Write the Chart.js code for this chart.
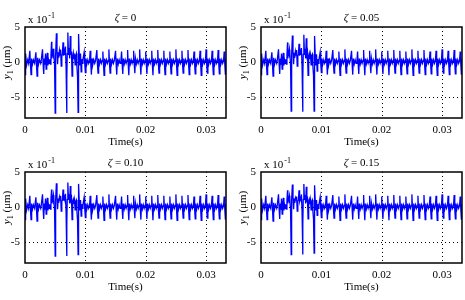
<!DOCTYPE html>
<html>
<head>
<meta charset="utf-8">
<script src="https://cdn.jsdelivr.net/npm/chart.js@4/dist/chart.umd.min.js"></script>
<style>
  html, body { margin: 0; padding: 0; background: #fff; overflow: hidden; }
  body { width: 465px; height: 300px; position: relative; }
  canvas { position: absolute; }
</style>
</head>
<body>
<canvas id="c0" width="230" height="150" style="left:0px;top:0px"></canvas>
<canvas id="c1" width="229" height="150" style="left:236px;top:0px"></canvas>
<canvas id="c2" width="230" height="150" style="left:0px;top:145px"></canvas>
<canvas id="c3" width="229" height="150" style="left:236px;top:145px"></canvas>
<script>
// axis ticks
const xTicks = [0, 0.01, 0.02, 0.03];
const yTicks = [-5, 0, 5];
const zetaLabels = ["0", "0.05", "0.10", "0.15"];

// y1 in units of 1e-1 um, [time(s), value]
// start-up part, same in every panel
const earlyPart = [
  [0,-1.8],[.0001,1.2],[.0002,.2],[.0003,-.3],[.00045,.3],[.0006,-.2],
  [.0008,1.6],[.0009,-.3],[.001,-1.8],[.0011,.5],[.00125,-.3],[.0014,.3],[.0016,-.2],
  [.0018,1.4],[.0019,-.3],[.002,-2.0],[.0021,.6],[.00225,-.3],[.0024,.3],[.0026,-.2],[.0027,.3],
  [.0029,1.8],[.003,-.2],[.0031,-1.7],[.0032,.5],[.0033,-.4],[.0034,1.2],[.0035,-1.0],[.0036,.4],
  [.0037,1.3],[.0038,-.5],[.0039,.3],[.004,-.2]
];

// transient bursts, one per damping ratio
const eventZ0 = [
  [.0041,.4],[.0042,-.3],[.0043,1.0],[.0044,2.9],[.00445,.5],[.0045,1.6],[.0046,1.2],[.0047,1.9],[.00475,.8],
  [.0048,1.4],[.0049,-.5],[.005,-7.3],[.00505,-3.0],[.0051,1.0],[.0052,4.1],[.0053,1.5],[.0054,-.3],[.0055,1.4],
  [.0056,.6],[.0057,1.6],[.0058,1.0],[.0059,1.8],[.006,-.6],[.0061,.8],[.0062,1.2],[.0063,2.8],[.0064,.9],
  [.0065,1.6],[.0066,1.0],[.0067,2.2],[.0068,-.5],[.0069,-7.3],[.00695,-2.5],[.007,1.2],[.0071,4.2],[.0072,1.0],
  [.0073,2.0],[.0074,.5],[.0075,3.7],[.0076,1.0],[.0077,1.5],[.0078,-2.0],[.0079,.8],[.008,1.3],[.0081,.4],
  [.0082,1.1],[.0083,-.4],[.0084,.9],[.0085,1.2],[.0086,-.6],[.0087,-2.0],[.0088,-7.2],[.00885,-1.5],[.0089,4.0],
  [.009,.6],[.0091,-.5],[.0092,1.2],[.0093,-1.4],[.0094,.4],[.0095,-.2],[.0096,.3]
];
const eventZ05 = [
  [.0041,.4],[.0042,-.3],[.0043,1.0],[.0044,2.8],[.00445,.5],[.0045,1.5],[.0046,1.2],[.0047,1.8],[.00475,.8],
  [.0048,1.3],[.0049,-.5],[.005,-7.0],[.00505,-3.0],[.0051,1.0],[.0052,3.8],[.0053,1.4],[.0054,-.3],[.0055,1.3],
  [.0056,.6],[.0057,1.5],[.0058,1.0],[.0059,1.7],[.006,-.6],[.0061,.8],[.0062,1.1],[.0063,2.6],[.0064,.9],
  [.0065,1.5],[.0066,1.0],[.0067,2.0],[.0068,-.5],[.0069,-7.1],[.00695,-2.5],[.007,1.1],[.0071,3.9],[.0072,1.0],
  [.0073,1.9],[.0074,.5],[.0075,3.4],[.0076,1.0],[.0077,1.4],[.0078,-1.9],[.0079,.8],[.008,1.2],[.0081,.4],
  [.0082,1.0],[.0083,-.4],[.0084,.9],[.0085,1.1],[.0086,-.6],[.0087,-1.9],[.0088,-7.0],[.00885,-1.5],[.0089,3.7],
  [.009,.6],[.0091,-.5],[.0092,1.1],[.0093,-1.3],[.0094,.4],[.0095,-.2],[.0096,.3]
];
const eventZ10 = [
  [.0041,.4],[.0042,-.3],[.0043,1.0],[.0044,2.5],[.00445,.5],[.0045,1.5],[.0046,1.1],[.0047,1.7],[.00475,.8],
  [.0048,1.3],[.0049,-.5],[.005,-7.0],[.00505,-3.0],[.0051,1.0],[.0052,3.4],[.0053,1.3],[.0054,-.3],[.0055,1.2],
  [.0056,.6],[.0057,1.4],[.0058,1.0],[.0059,1.6],[.006,-.6],[.0061,.8],[.0062,1.0],[.0063,2.5],[.0064,.9],
  [.0065,1.4],[.0066,1.0],[.0067,1.9],[.0068,-.5],[.0069,-7.0],[.00695,-2.5],[.007,1.1],[.0071,3.5],[.0072,1.0],
  [.0073,1.8],[.0074,.5],[.0075,3.0],[.0076,1.0],[.0077,1.3],[.0078,-1.8],[.0079,.8],[.008,1.1],[.0081,.4],
  [.0082,1.0],[.0083,-.4],[.0084,.8],[.0085,1.0],[.0086,-.6],[.0087,-1.8],[.0088,-6.8],[.00885,-1.5],[.0089,3.3],
  [.009,.6],[.0091,-.5],[.0092,1.0],[.0093,-1.3],[.0094,.4],[.0095,-.2],[.0096,.3]
];
const eventZ15 = [
  [.0041,.4],[.0042,-.3],[.0043,1.0],[.0044,2.4],[.00445,.5],[.0045,1.4],[.0046,1.1],[.0047,1.6],[.00475,.8],
  [.0048,1.2],[.0049,-.5],[.005,-6.8],[.00505,-3.0],[.0051,1.0],[.0052,3.2],[.0053,1.3],[.0054,-.3],[.0055,1.2],
  [.0056,.6],[.0057,1.3],[.0058,1.0],[.0059,1.5],[.006,-.6],[.0061,.8],[.0062,1.0],[.0063,2.4],[.0064,.9],
  [.0065,1.3],[.0066,1.0],[.0067,1.8],[.0068,-.5],[.0069,-6.8],[.00695,-2.5],[.007,1.1],[.0071,3.3],[.0072,1.0],
  [.0073,1.7],[.0074,.5],[.0075,2.9],[.0076,1.0],[.0077,1.2],[.0078,-1.7],[.0079,.8],[.008,1.1],[.0081,.4],
  [.0082,1.0],[.0083,-.4],[.0084,.8],[.0085,1.0],[.0086,-.6],[.0087,-1.7],[.0088,-6.6],[.00885,-1.5],[.0089,3.1],
  [.009,.6],[.0091,-.5],[.0092,1.0],[.0093,-1.2],[.0094,.4],[.0095,-.2],[.0096,.3]
];

// steady periodic part after the burst, same in every panel
const tailPart = [
  [.0098,1.4],[.0099,-.3],[.01,-1.5],[.0101,.5],[.01025,-.3],[.0104,.3],[.01055,-.2],
  [.0107,.25],[.0108,1.6],[.0109,-.3],[.011,-1.8],[.0111,.5],[.01125,-.3],[.0114,.3],[.01155,-.2],[.0117,.25],
  [.0119,1.7],[.012,-.3],[.0121,-1.6],[.0122,.5],[.01235,-.3],[.0125,.3],[.01265,-.2],[.0128,.25],
  [.0129,1.5],[.013,-.3],[.0131,-1.9],[.0132,.5],[.01335,-.3],[.0135,.3],[.01365,-.2],[.0138,.25],
  [.0139,1.8],[.014,-.3],[.0141,-1.6],[.0142,.5],[.01435,-.3],[.0145,.3],[.01465,-.2],[.0148,.25],
  [.015,1.6],[.0151,-.3],[.0152,-1.8],[.0153,.5],[.01545,-.3],[.0156,.3],[.01575,-.2],[.0159,.25],
  [.016,1.5],[.0161,-.3],[.0162,-1.7],[.0163,.5],[.01645,-.3],[.0166,.3],[.01675,-.2],[.0169,.25],
  [.017,1.7],[.0171,-.3],[.0172,-1.9],[.0173,.5],[.01745,-.3],[.0176,.3],[.01775,-.2],[.0179,.25],
  [.018,1.6],[.0181,-.3],[.0182,-1.6],[.0183,.5],[.01845,-.3],[.0186,.3],[.01875,-.2],[.0189,.25],
  [.019,1.8],[.0191,-.3],[.0192,-1.8],[.0193,.5],[.01945,-.3],[.0196,.3],[.01975,-.2],[.0199,.25],
  [.02,1.5],[.0201,-.3],[.0202,-1.7],[.0203,.5],[.02045,-.3],[.0206,.3],[.02075,-.2],[.0209,.25],
  [.021,1.6],[.0211,-.3],[.0212,-1.9],[.0213,.5],[.02145,-.3],[.0216,.3],[.02175,-.2],[.0219,.25],
  [.022,1.7],[.0221,-.3],[.0222,-1.6],[.0223,.5],[.02245,-.3],[.0226,.3],[.02275,-.2],[.0229,.25],
  [.023,1.6],[.0231,-.3],[.0232,-1.8],[.0233,.5],[.02345,-.3],[.0236,.3],[.02375,-.2],[.0239,.25],
  [.024,1.5],[.0241,-.3],[.0242,-1.7],[.0243,.5],[.02445,-.3],[.0246,.3],[.02475,-.2],[.0249,.25],
  [.025,1.8],[.0251,-.3],[.0252,-1.9],[.0253,.5],[.02545,-.3],[.0256,.3],[.02575,-.2],[.0259,.25],
  [.026,1.6],[.0261,-.3],[.0262,-1.6],[.0263,.5],[.02645,-.3],[.0266,.3],[.02675,-.2],[.0269,.25],
  [.027,1.7],[.0271,-.3],[.0272,-1.8],[.0273,.5],[.02745,-.3],[.0276,.3],[.02775,-.2],[.0279,.25],
  [.028,1.5],[.0281,-.3],[.0282,-1.7],[.0283,.5],[.02845,-.3],[.0286,.3],[.02875,-.2],[.0289,.25],
  [.029,1.6],[.0291,-.3],[.0292,-1.9],[.0293,.5],[.02945,-.3],[.0296,.3],[.02975,-.2],[.0299,.25],
  [.03,1.8],[.0301,-.3],[.0302,-1.6],[.0303,.5],[.03045,-.3],[.0306,.3],[.03075,-.2],[.0309,.25],
  [.031,1.6],[.0311,-.3],[.0312,-1.8],[.0313,.5],[.03145,-.3],[.0316,.3],[.03175,-.2],[.0319,.25],
  [.032,1.7],[.0321,-.3],[.0322,-1.7],[.0323,.5],[.03245,-.3],[.0326,.3],[.03275,-.2],[.0329,.25],
  [.033,1.5],[.0331,-.3],[.0332,-1.8],[.0333,.4]
];

const events = [eventZ0, eventZ05, eventZ10, eventZ15];

const FONT = '"Liberation Serif", "Times New Roman", serif';

// frame, grid, title and axis labels
const decor = {
  id: 'decor',
  beforeDatasetsDraw(chart) {
    const ctx = chart.ctx, a = chart.chartArea;
    const xs = chart.scales.x, ys = chart.scales.y;
    ctx.save();
    ctx.strokeStyle = '#000';
    ctx.lineWidth = 1;
    ctx.setLineDash([1, 3]);
    xTicks.forEach(v => {
      if (v <= xs.min || v >= xs.max) return;
      const px = Math.round(xs.getPixelForValue(v)) + 0.5;
      ctx.beginPath(); ctx.moveTo(px, a.top); ctx.lineTo(px, a.bottom); ctx.stroke();
    });
    yTicks.forEach(v => {
      if (v <= ys.min || v >= ys.max) return;
      const py = Math.round(ys.getPixelForValue(v)) + 0.5;
      ctx.beginPath(); ctx.moveTo(a.left, py); ctx.lineTo(a.right, py); ctx.stroke();
    });
    ctx.restore();
  },
  afterDraw(chart, args, opts) {
    const ctx = chart.ctx, a = chart.chartArea;
    const cx = (a.left + a.right) / 2;
    ctx.save();
    ctx.strokeStyle = '#000';
    ctx.lineWidth = 1.5;
    ctx.strokeRect(a.left, a.top, a.right - a.left, a.bottom - a.top);

    ctx.fillStyle = '#000';
    ctx.textBaseline = 'alphabetic';
    ctx.textAlign = 'left';
    // exponent label
    ctx.font = '11px ' + FONT;
    ctx.fillText('x 10', a.left + 3, a.top - 4);
    const w = ctx.measureText('x 10').width;
    ctx.font = '8px ' + FONT;
    ctx.fillText('-1', a.left + 4 + w, a.top - 9);

    // title with italic zeta
    ctx.font = 'italic 11px ' + FONT;
    const z = 'ζ';
    const wz = ctx.measureText(z).width;
    ctx.font = '11px ' + FONT;
    const rest = ' = ' + opts.zeta;
    const wr = ctx.measureText(rest).width;
    let tx = cx - (wz + wr) / 2;
    ctx.font = 'italic 11px ' + FONT;
    ctx.fillText(z, tx, a.top - 6);
    ctx.font = '11px ' + FONT;
    ctx.fillText(rest, tx + wz, a.top - 6);

    // x label
    ctx.textAlign = 'center';
    ctx.font = '11px ' + FONT;
    ctx.fillText('Time(s)', cx, a.bottom + 27);

    // y label, rotated
    ctx.translate(a.left - 15, (a.top + a.bottom) / 2 - 10);
    ctx.rotate(-Math.PI / 2);
    ctx.textAlign = 'left';
    ctx.font = 'italic 11px ' + FONT;
    const wy = ctx.measureText('y').width;
    ctx.font = '8px ' + FONT;
    const w1 = ctx.measureText('1').width;
    ctx.font = '11px ' + FONT;
    const wu = ctx.measureText(' (μm)').width;
    let lx = -(wy + w1 + wu) / 2;
    ctx.font = 'italic 11px ' + FONT;
    ctx.fillText('y', lx, 0);
    ctx.font = '8px ' + FONT;
    ctx.fillText('1', lx + wy, 3);
    ctx.font = '11px ' + FONT;
    ctx.fillText(' (μm)', lx + wy + w1, 0);
    ctx.restore();
  }
};

function makeChart(id, idx, rightPad) {
  const series = earlyPart.concat(events[idx], tailPart);
  return new Chart(document.getElementById(id), {
    type: 'line',
    data: {
      datasets: [{
        data: series,
        borderColor: '#0000ff',
        borderWidth: 1.3,
        pointRadius: 0,
        tension: 0,
        fill: false
      }]
    },
    options: {
      responsive: false,
      animation: false,
      devicePixelRatio: 1,
      layout: { padding: { top: 27, right: rightPad, left: 0, bottom: 0 } },
      plugins: {
        legend: { display: false },
        tooltip: { enabled: false },
        decor: { zeta: zetaLabels[idx] }
      },
      scales: {
        x: {
          type: 'linear',
          min: 0,
          max: 0.0333,
          afterBuildTicks: s => { s.ticks = xTicks.map(v => ({ value: v })); },
          afterFit: s => { s.height = 32; },
          grid: { display: false, drawTicks: false },
          border: { display: false },
          ticks: {
            padding: 6,
            color: '#000',
            maxRotation: 0,
            font: { family: FONT, size: 11 },
            callback: v => String(v)
          }
        },
        y: {
          min: -8,
          max: 5,
          afterBuildTicks: s => { s.ticks = yTicks.map(v => ({ value: v })); },
          afterFit: s => { s.width = 25; },
          grid: { display: false, drawTicks: false },
          border: { display: false },
          ticks: {
            padding: 5,
            color: '#000',
            font: { family: FONT, size: 11 },
            callback: v => String(v)
          }
        }
      }
    },
    plugins: [decor]
  });
}

makeChart('c0', 0, 4);
makeChart('c1', 1, 3);
makeChart('c2', 2, 4);
makeChart('c3', 3, 3);
</script>
</body>
</html>
